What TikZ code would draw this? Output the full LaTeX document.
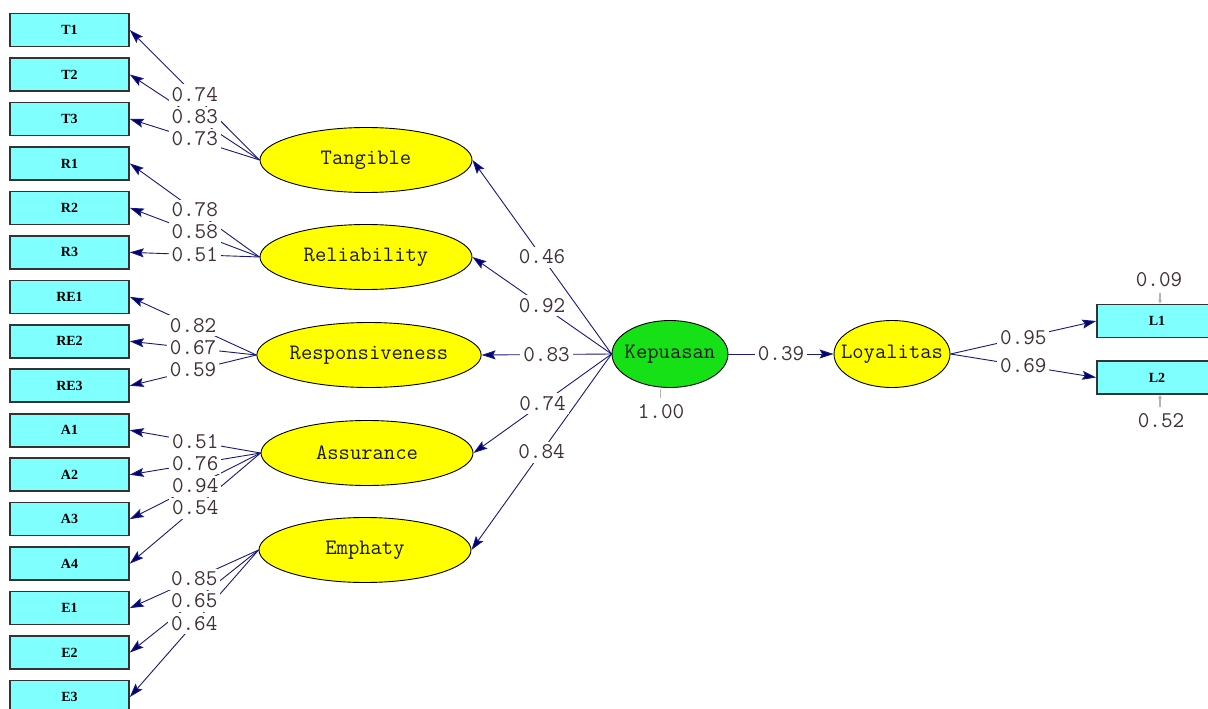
\documentclass[tikz,border=0pt]{standalone}
\usepackage{fontspec}
\newfontfamily\boxfont{Liberation Serif}
\usetikzlibrary{shapes.geometric,arrows.meta}
\definecolor{pathcol}{HTML}{18187E}
\definecolor{tipcol}{HTML}{000070}
\definecolor{lblcol}{HTML}{403038}
\definecolor{boxfill}{HTML}{80FFFF}
\definecolor{latfill}{HTML}{FFFF00}
\definecolor{kepfill}{HTML}{16E016}
\definecolor{errcol}{HTML}{B4B4B4}
\tikzset{
  obsbox/.style={draw=black!80, line width=1.6pt, fill=boxfill, minimum width=119pt, minimum height=33pt, inner sep=0pt,
    font=\boxfont\bfseries\fontsize{14}{14}\selectfont},
  latent/.style={ellipse, draw=black, line width=0.9pt, fill=latfill, minimum width=212pt, minimum height=65pt, inner sep=0pt,
    font=\ttfamily\fontsize{22}{22}\selectfont, text=black!90},
  smlatent/.style={ellipse, draw=black, line width=0.9pt, fill=latfill, minimum width=116pt, minimum height=67pt, inner sep=0pt},
  latfont/.style={inner sep=0pt, font=\ttfamily\fontsize{22}{22}\selectfont, text=black!90},
  pth/.style={draw=pathcol, line width=0.9pt, -{Stealth[length=14pt,width=9pt,inset=2.5pt,fill=tipcol]}},
  lbl/.style={fill=white, inner xsep=3pt, inner ysep=4pt, text height=13pt, text depth=0pt,
    font=\ttfamily\fontsize{22.5}{22.5}\selectfont, text=lblcol},
  errlbl/.style={inner sep=0pt, font=\ttfamily\fontsize{22.5}{22.5}\selectfont, text=lblcol},
  errln/.style={draw=errcol, line width=1.4pt},
}
\begin{document}
\begin{tikzpicture}[x=1pt,y=-1pt]
\clip (0,0) rectangle (1208,709);
\fill[white] (0,0) rectangle (1208,709);

% observed indicators
\foreach \nm [count=\i from 0] in {T1,T2,T3,R1,R2,R3,RE1,RE2,RE3,A1,A2,A3,A4,E1,E2,E3}
  \node[obsbox] (\nm) at (69.5,{30+44.47*\i}) {\nm};

% latent variables
\node[latent] (tang) at (366,160) {Tangible};
\node[latent] (rel)  at (366,257) {Reliability};
\node[latent] (resp) at (369,355) {Responsiveness};
\node[latent] (assu) at (367,453) {Assurance};
\node[latent] (emph) at (365,550) {Emphaty};
\node[smlatent, fill=kepfill] (kep) at (670,354) {};
\node[latfont] (kept) at (kep.center) {Kepuasan};
\node[smlatent] (loy) at (892,354) {};
\node[latfont] (loyt) at (loy.center) {Loyalitas};

\node[obsbox, minimum width=120pt] (L1) at (1157,321) {L1};
\node[obsbox, minimum width=120pt] (L2) at (1157,377.5) {L2};

% paths
\foreach \a/\b in {tang/T1,tang/T2,tang/T3,rel/R1,rel/R2,rel/R3,resp/RE1,resp/RE2,resp/RE3,
                   assu/A1,assu/A2,assu/A3,assu/A4,emph/E1,emph/E2,emph/E3}
  \draw[pth] (\a.west) -- (\b.east);
\foreach \b in {tang,rel,resp,assu,emph}
  \draw[pth] (kep.west) -- (\b.east);
\draw[pth] (kep.east) -- (loy.west);
\draw[pth] (loy.east) -- (L1.west);
\draw[pth] (loy.east) -- (L2.west);

% path labels
\foreach \a/\b/\v in {tang/T1/0.74,tang/T2/0.83,tang/T3/0.73,rel/R1/0.78,rel/R2/0.58,rel/R3/0.51,
                      resp/RE1/0.82,resp/RE2/0.67,resp/RE3/0.59,
                      assu/A1/0.51,assu/A2/0.76,assu/A3/0.94,assu/A4/0.54,
                      emph/E1/0.85,emph/E2/0.65,emph/E3/0.64}
  \path (\a.west) -- (\b.east) node[lbl, pos=0.5] {\v};
\foreach \b/\v in {tang/0.46,rel/0.92,resp/0.83,assu/0.74,emph/0.84}
  \path (kep.west) -- (\b.east) node[lbl, pos=0.5] {\v};
\path (kep.east) -- (loy.west) node[lbl, pos=0.5] {0.39};
\path (loy.east) -- (L1.west) node[lbl, pos=0.5] {0.95};
\path (loy.east) -- (L2.west) node[lbl, pos=0.5] {0.69};

% error variances
\coordinate (ek1) at (660,389);
\coordinate (ek2) at (660,398);
\draw[errln, line width=1pt] (ek1) -- (ek2);
\node[errlbl] (ekl) at (661,412) {1.00};

\coordinate (e1a) at (1160,293);
\draw[errln, -{Stealth[length=4pt,width=4pt]}] (e1a) -- (L1.north -| e1a);
\node[errlbl] (e1l) at (1159,280) {0.09};

\coordinate (e2a) at (1160,407);
\draw[errln, -{Stealth[length=4pt,width=4pt]}] (e2a) -- (L2.south -| e2a);
\node[errlbl] (e2l) at (1161,421) {0.52};
\end{tikzpicture}
\end{document}
